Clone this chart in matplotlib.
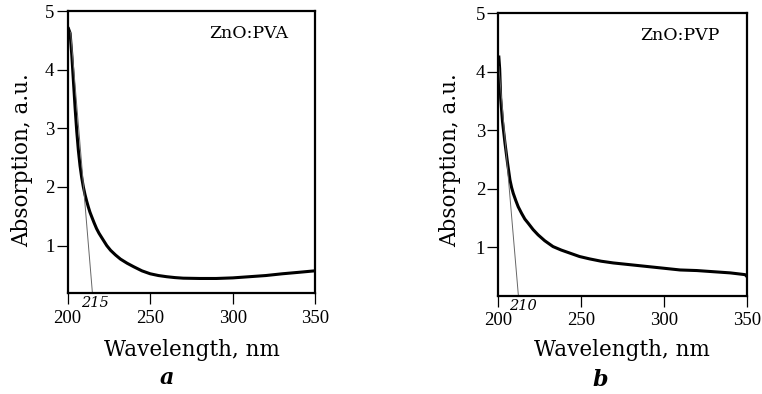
import matplotlib
matplotlib.use("Agg")
import matplotlib.pyplot as plt

plt.rcParams['font.family'] = ['DejaVu Serif']

# panel a: ZnO:PVA
wl_a = [200.5, 201.5, 202.5, 203.5, 204.5, 205.5, 206.5, 207.5, 208.5, 209.5,
        210.5, 211.5, 212.5, 213.5, 214.6, 216.0, 217.5, 219.0, 221.0, 223.7,
        226.0, 229.0, 232.0, 236.0, 240.0, 245.0, 250.0, 255.0, 260.0, 265.0,
        270.0, 280.0, 290.0, 300.0, 310.0, 320.0, 330.0, 340.0, 349.6]
abs_a = [4.70, 4.62, 4.25, 3.80, 3.35, 2.95, 2.62, 2.36, 2.16, 2.00,
         1.87, 1.76, 1.66, 1.57, 1.49, 1.39, 1.29, 1.21, 1.12, 1.00,
         0.92, 0.84, 0.77, 0.70, 0.64, 0.57, 0.52, 0.49, 0.47, 0.455,
         0.445, 0.44, 0.44, 0.45, 0.47, 0.49, 0.52, 0.545, 0.57]
tan_a_x = [201.8, 215.0]
tan_a_y = [4.64, 0.19]

# panel b: ZnO:PVP
wl_b = [200.3, 200.8, 201.4, 202.5, 204.0, 205.5, 207.0, 208.0, 209.0, 210.5,
        212.0, 214.0, 216.0, 218.0, 221.0, 224.0, 228.0, 233.0, 238.0, 243.0,
        249.0, 255.0, 262.0, 269.4, 279.5, 289.6, 299.7, 309.7, 319.8, 329.9,
        340.0, 349.0, 350.0]
abs_b = [4.25, 4.05, 3.55, 3.15, 2.78, 2.45, 2.15, 2.02, 1.92, 1.80,
         1.69, 1.58, 1.48, 1.41, 1.30, 1.21, 1.11, 1.01, 0.95, 0.90,
         0.84, 0.80, 0.76, 0.73, 0.70, 0.67, 0.64, 0.61, 0.60, 0.58,
         0.56, 0.53, 0.50]
tan_b_x = [200.3, 212.1]
tan_b_y = [4.09, 0.17]

xticks = [200, 250, 300, 350]
yticks = [1, 2, 3, 4, 5]

fig = plt.figure(figsize=(7.62, 3.94), dpi=100)
ax_a = fig.add_axes([0.0888, 0.256, 0.325, 0.716])
ax_b = fig.add_axes([0.654, 0.2495, 0.326, 0.717])

# ax, x, y, tangent x/y, name, cutoff label, its x, ymin, letter, label spots
panels = [
    (ax_a, wl_a, abs_a, tan_a_x, tan_a_y, 'ZnO:PVA', '215', 216.6, 0.19, 'a',
     (-0.185, 0.47), (0.503, -0.202), (0.40, -0.30)),
    (ax_b, wl_b, abs_b, tan_b_x, tan_b_y, 'ZnO:PVP', '210', 215.1, 0.17, 'b',
     (-0.195, 0.48), (0.498, -0.192), (0.41, -0.298)),
]

for (ax, x, y, tx, ty, name, cut, cut_x, ymin, letter,
     ylab_pos, xlab_pos, let_pos) in panels:
    ax.plot(x, y, color='black', lw=2.2, solid_joinstyle='round')
    ax.plot(tx, ty, color='#666666', lw=0.7)
    ax.set_xlim(200, 350)
    ax.set_ylim(ymin, 5)
    ax.set_xticks(xticks)
    ax.set_yticks(yticks)
    for s in ax.spines.values():
        s.set_linewidth(1.6)
    ax.tick_params(direction='out', length=8, width=0.9, labelsize=13.5,
                   labelfontfamily='Liberation Serif',
                   top=False, right=False)
    ax.tick_params(axis='x', pad=4)
    ax.tick_params(axis='y', pad=1.5)
    ax.set_xlabel('Wavelength, nm', fontsize=15.5, va='center')
    ax.set_ylabel('Absorption, a.u.', fontsize=15.5, va='center')
    ax.xaxis.set_label_coords(*xlab_pos)
    ax.yaxis.set_label_coords(*ylab_pos)
    ax.text(0.73, 0.92, name, transform=ax.transAxes, fontsize=12.5,
            ha='center', va='center')
    ax.annotate(cut, xy=(cut_x, 0), xycoords=('data', 'axes fraction'),
                xytext=(0, -10), textcoords='offset pixels',
                fontsize=10.5, style='italic', ha='center', va='center')
    ax.text(let_pos[0], let_pos[1], letter, transform=ax.transAxes,
            fontsize=16, style='italic', fontweight='bold',
            ha='center', va='center')

fig.savefig('out.png', dpi=100)
